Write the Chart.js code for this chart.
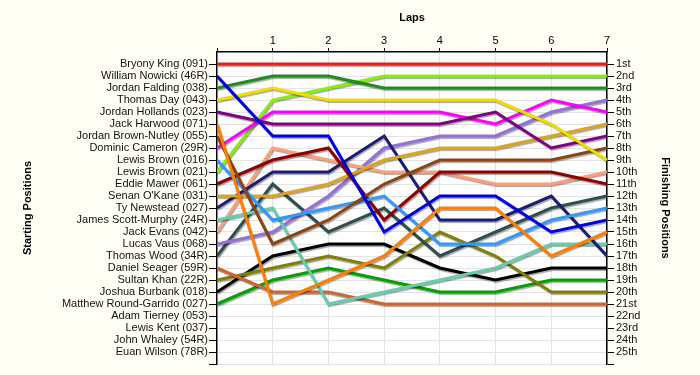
<!DOCTYPE html>
<html>
<head>
<meta charset="utf-8">
<title>Lap Chart</title>
<script src="https://cdn.jsdelivr.net/npm/chart.js"></script>
<style>
  body { margin: 0; background: #fffff5; }
  .wrap { width: 700px; height: 375px; }
</style>
</head>
<body>
<div class="wrap"><canvas id="lapChart"></canvas></div>
<script>
const laps = [0, 1, 2, 3, 4, 5, 6, 7];

const startNames = [
  'Bryony King (091)', 'William Nowicki (46R)', 'Jordan Falding (038)', 'Thomas Day (043)',
  'Jordan Hollands (023)', 'Jack Harwood (071)', 'Jordan Brown-Nutley (055)', 'Dominic Cameron (29R)',
  'Lewis Brown (016)', 'Lewis Brown (021)', 'Eddie Mawer (061)', "Senan O'Kane (031)",
  'Ty Newstead (027)', 'James Scott-Murphy (24R)', 'Jack Evans (042)', 'Lucas Vaus (068)',
  'Thomas Wood (34R)', 'Daniel Seager (59R)', 'Sultan Khan (22R)', 'Joshua Burbank (018)',
  'Matthew Round-Garrido (027)', 'Adam Tierney (053)', 'Lewis Kent (037)', 'John Whaley (54R)',
  'Euan Wilson (78R)'
];

const finishLabels = [
  '1st', '2nd', '3rd', '4th', '5th', '6th', '7th', '8th', '9th', '10th', '11th', '12th', '13th',
  '14th', '15th', '16th', '17th', '18th', '19th', '20th', '21st', '22nd', '23rd', '24th', '25th'
];

// position at the end of each lap, one row per driver (in starting order)
const positions = [
  [1, 1, 1, 1, 1, 1, 1, 1],
  [2, 7, 7, 15, 12, 12, 15, 14],
  [3, 2, 2, 3, 3, 3, 3, 3],
  [4, 3, 4, 4, 4, 4, 6, 9],
  [5, 6, 6, 6, 6, 5, 8, 7],
  [6, 21, 19, 17, 13, 13, 17, 15],
  [7, 16, 14, 11, 9, 9, 9, 8],
  [8, 5, 5, 5, 5, 6, 4, 5],
  [9, 14, 13, 12, 16, 16, 14, 13],
  [10, 4, 3, 2, 2, 2, 2, 2],
  [11, 9, 8, 14, 10, 10, 10, 11],
  [12, 12, 11, 9, 8, 8, 7, 6],
  [13, 10, 10, 7, 14, 14, 12, 17],
  [14, 13, 21, 20, 19, 18, 16, 16],
  [15, 8, 9, 10, 10, 11, 11, 10],
  [16, 15, 12, 8, 7, 7, 5, 4],
  [17, 11, 15, 13, 17, 15, 13, 12],
  [18, 20, 20, 21, 21, 21, 21, 21],
  [19, 18, 17, 18, 15, 17, 20, 20],
  [20, 17, 16, 16, 18, 19, 18, 18],
  [21, 19, 18, 19, 20, 20, 19, 19]
];

const lineColors = [
  '#dd2020', '#0000dd', '#1e8c1e', '#f0dc00', '#800080', '#ff8000', '#8b4513',
  '#ff00ff', '#3399ff', '#88ee11', '#8b0000', '#daa520', '#1c1c70', '#66cdaa',
  '#ffa07a', '#9370db', '#2f4f4f', '#cc6633', '#808000', '#000000', '#00a000'
];

const rowTicks = [];
for (let i = 1; i <= 26; i++) rowTicks.push(i);

const datasets = positions.map((row, i) => ({
  label: startNames[i],
  data: row.map((p, j) => ({ x: laps[j], y: p })),
  borderColor: lineColors[i],
  backgroundColor: lineColors[i],
  borderWidth: 3,
  pointRadius: 0,
  tension: 0,
  fill: false
}));

const paper = {
  id: 'paper',
  beforeDraw(chart) {
    const { ctx, chartArea: a } = chart;
    ctx.save();
    ctx.fillStyle = '#fffff5';
    ctx.fillRect(0, 0, chart.width, chart.height);
    ctx.fillStyle = '#ffffff';
    ctx.fillRect(a.left, a.top, a.right - a.left, a.bottom - a.top);
    ctx.restore();
  }
};

const lineShadow = {
  id: 'lineShadow',
  beforeDatasetsDraw(chart) {
    const c = chart.ctx;
    c.save();
    c.shadowColor = 'rgba(0, 0, 0, 0.35)';
    c.shadowOffsetX = 1;
    c.shadowOffsetY = 1.5;
    c.shadowBlur = 1;
  },
  afterDatasetsDraw(chart) {
    chart.ctx.restore();
  }
};

Chart.defaults.font.family = "'Liberation Sans', Arial, sans-serif";
Chart.defaults.color = '#111';

const labelFont = { size: 11 };
const titleFont = { size: 11, weight: 'bold' };

new Chart(document.getElementById('lapChart'), {
  type: 'line',
  data: { datasets },
  options: {
    responsive: true,
    maintainAspectRatio: false,
    animation: false,
    layout: { padding: { left: 0, right: 0, top: 0, bottom: 11 } },
    plugins: {
      legend: { display: false },
      tooltip: { enabled: false }
    },
    scales: {
      x: {
        type: 'linear',
        position: 'top',
        min: 0,
        max: 7,
        ticks: {
          stepSize: 1,
          padding: 0,
          font: { size: 11 },
          color: '#000',
          callback: v => (v === 0 ? '' : v)
        },
        grid: {
          color: c => (c.tick && c.tick.value === 0 ? 'rgba(0,0,0,0)' : '#e4e4e4'),
          tickColor: '#000',
          tickLength: 4
        },
        border: { color: '#000', width: 1.5 },
        title: { display: true, text: 'Laps', font: titleFont, color: '#000', padding: { top: 11, bottom: 0 } },
        afterFit: s => { s.height = 52; }
      },
      y: {
        type: 'linear',
        position: 'left',
        reverse: true,
        min: 0,
        max: 26,
        afterBuildTicks: s => { s.ticks = rowTicks.map(v => ({ value: v })); },
        ticks: {
          autoSkip: false,
          padding: 1,
          font: labelFont,
          color: '#111',
          callback: v => startNames[v - 1] || ''
        },
        grid: { color: '#e4e4e4', tickColor: '#000', tickLength: 8 },
        border: { color: '#000', width: 1.5 },
        title: { display: true, text: 'Starting Positions', font: titleFont, color: '#000', padding: { top: 21, bottom: 0 } },
        afterFit: s => { s.width = 217; }
      },
      y2: {
        type: 'linear',
        position: 'right',
        reverse: true,
        min: 0,
        max: 26,
        afterBuildTicks: s => { s.ticks = rowTicks.map(v => ({ value: v })); },
        ticks: {
          autoSkip: false,
          padding: 2,
          font: labelFont,
          color: '#111',
          callback: v => finishLabels[v - 1] || ''
        },
        grid: { drawOnChartArea: false, tickColor: '#000', tickLength: 7 },
        border: { color: '#000', width: 1.5 },
        title: { display: true, text: 'Finishing Positions', font: titleFont, color: '#000', padding: { top: 28, bottom: 0 } },
        afterFit: s => { s.width = 93; }
      }
    }
  },
  plugins: [paper, lineShadow]
});
</script>
</body>
</html>
